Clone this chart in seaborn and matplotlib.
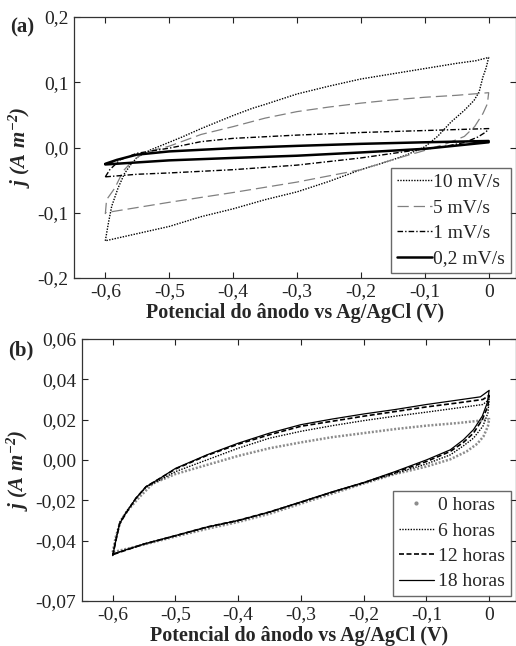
import numpy as np
import pandas as pd
import matplotlib
matplotlib.use("Agg")
import matplotlib.pyplot as plt
from matplotlib.lines import Line2D
import seaborn as sns

# ---------------- Panel (a): scan rates ----------------
a_labels = ["10 mV/s", "5 mV/s", "1 mV/s", "0,2 mV/s"]

a10_E = [-0.600, -0.595, -0.590, -0.580, -0.570, -0.560, -0.550, -0.530, -0.510, -0.500, -0.480, -0.450,
         -0.420, -0.400, -0.370, -0.350, -0.300, -0.250, -0.200, -0.150, -0.100, -0.050, -0.020, 0.000,
         -0.004, -0.009, -0.015, -0.023, -0.038, -0.059, -0.080, -0.100, -0.130, -0.160, -0.200, -0.250,
         -0.300, -0.350, -0.400, -0.450, -0.500, -0.550, -0.600]
a10_j = [-0.143, -0.115, -0.090, -0.062, -0.040, -0.026, -0.015, -0.004, 0.004, 0.008, 0.016, 0.029,
         0.041, 0.049, 0.060, 0.066, 0.082, 0.094, 0.105, 0.113, 0.121, 0.129, 0.133, 0.138,
         0.122, 0.108, 0.085, 0.072, 0.057, 0.039, 0.017, 0.001, -0.012, -0.022, -0.034, -0.052,
         -0.068, -0.080, -0.094, -0.106, -0.121, -0.132, -0.143]

a5_E = [-0.600, -0.598, -0.585, -0.572, -0.556, -0.540, -0.520, -0.500, -0.450, -0.400, -0.350, -0.300,
        -0.250, -0.200, -0.150, -0.100, -0.050, 0.000,
        -0.002, -0.009, -0.022, -0.038, -0.064, -0.100, -0.148, -0.200, -0.300, -0.400, -0.500, -0.550, -0.600]
a5_j = [-0.102, -0.080, -0.062, -0.036, -0.019, -0.009, -0.003, 0.002, 0.020, 0.032, 0.045, 0.055,
        0.062, 0.068, 0.073, 0.077, 0.080, 0.084,
        0.067, 0.052, 0.032, 0.017, 0.0066, -0.0045, -0.018, -0.034, -0.053, -0.069, -0.084, -0.092, -0.100]

a1_E = [-0.600, -0.593, -0.577, -0.551, -0.500, -0.450, -0.400, -0.300, -0.200, -0.100, 0.000,
        -0.004, -0.017, -0.038, -0.069, -0.100, -0.147, -0.200, -0.300, -0.400, -0.500, -0.550, -0.600]
a1_j = [-0.045, -0.034, -0.019, -0.009, -0.001, 0.009, 0.014, 0.019, 0.023, 0.026, 0.029,
        0.024, 0.016, 0.0076, 0.0015, -0.002, -0.0086, -0.016, -0.027, -0.034, -0.039, -0.041, -0.045]

a02_E = [-0.600, -0.582, -0.551, -0.500, -0.400, -0.300, -0.200, -0.100, 0.000,
         0.000, -0.100, -0.200, -0.300, -0.400, -0.500, -0.600]
a02_j = [-0.025, -0.019, -0.011, -0.006, -0.001, 0.0025, 0.0056, 0.008, 0.010,
         0.008, -0.002, -0.0076, -0.0126, -0.016, -0.0197, -0.026]

# ---------------- Panel (b): time ----------------
b_labels = ["0 horas", "6 horas", "12 horas", "18 horas"]

b0_E = [-0.600, -0.595, -0.587, -0.576, -0.557, -0.536, -0.500, -0.450, -0.400, -0.350, -0.300, -0.250,
        -0.200, -0.150, -0.100, -0.050, -0.014, 0.000,
        -0.002, -0.009, -0.019, -0.036, -0.062, -0.100, -0.150, -0.200, -0.250, -0.300, -0.350, -0.400,
        -0.450, -0.500, -0.550, -0.600]
b0_j = [-0.0458, -0.038, -0.030, -0.025, -0.0183, -0.0117, -0.007, -0.0025, 0.002, 0.0058, 0.0087, 0.0113,
        0.0133, 0.0153, 0.017, 0.0183, 0.0195, 0.0203,
        0.0167, 0.0117, 0.008, 0.0042, 0.0003, -0.0033, -0.007, -0.0117, -0.0167, -0.0217, -0.0267, -0.0308,
        -0.0342, -0.038, -0.042, -0.0458]

b6_E = [-0.600, -0.595, -0.589, -0.579, -0.563, -0.547, -0.525, -0.500, -0.450, -0.400, -0.350, -0.300,
        -0.250, -0.200, -0.150, -0.100, -0.050, -0.010, 0.000,
        -0.002, -0.010, -0.025, -0.041, -0.062, -0.100, -0.150, -0.200, -0.250, -0.300, -0.350, -0.400,
        -0.450, -0.500, -0.550, -0.600]
b6_j = [-0.0470, -0.039, -0.031, -0.026, -0.0190, -0.0135, -0.0100, -0.0058, 0.000, 0.0058, 0.0108, 0.0142,
        0.0170, 0.0195, 0.0217, 0.0237, 0.0258, 0.0275, 0.0300,
        0.0233, 0.0167, 0.0108, 0.0070, 0.0025, -0.0020, -0.0067, -0.0115, -0.0160, -0.0210, -0.0260, -0.0302,
        -0.0335, -0.0377, -0.0418, -0.0468]

b12_E = [-0.600, -0.595, -0.589, -0.579, -0.563, -0.547, -0.525, -0.500, -0.450, -0.400, -0.350, -0.300,
         -0.250, -0.200, -0.150, -0.100, -0.050, -0.010, 0.000,
         -0.002, -0.011, -0.025, -0.041, -0.062, -0.100, -0.150, -0.200, -0.250, -0.300, -0.350, -0.400,
         -0.450, -0.500, -0.550, -0.600]
b12_j = [-0.0475, -0.040, -0.0317, -0.0265, -0.0190, -0.0133, -0.0092, -0.0045, 0.0022, 0.0078, 0.0125, 0.0167,
         0.0192, 0.0217, 0.0240, 0.0263, 0.0283, 0.0300, 0.0320,
         0.0267, 0.0200, 0.0133, 0.0087, 0.0042, -0.0008, -0.0062, -0.0113, -0.0160, -0.0210, -0.0258, -0.0300,
         -0.0333, -0.0376, -0.0417, -0.0470]

b18_E = [-0.600, -0.595, -0.589, -0.579, -0.563, -0.547, -0.525, -0.500, -0.450, -0.400, -0.350, -0.300,
         -0.250, -0.200, -0.150, -0.100, -0.050, -0.014, 0.000,
         -0.003, -0.011, -0.025, -0.041, -0.062, -0.100, -0.150, -0.200, -0.250, -0.300, -0.350, -0.400,
         -0.450, -0.500, -0.550, -0.600]
b18_j = [-0.0475, -0.040, -0.0317, -0.0263, -0.0190, -0.0133, -0.0092, -0.0042, 0.0025, 0.0083, 0.0133, 0.0175,
         0.0203, 0.0228, 0.0250, 0.0275, 0.0297, 0.0313, 0.0345,
         0.0283, 0.0217, 0.0150, 0.0100, 0.0050, 0.0000, -0.0058, -0.0112, -0.0158, -0.0208, -0.0258, -0.0300,
         -0.0333, -0.0375, -0.0417, -0.0467]

a_xticks = [-0.6, -0.5, -0.4, -0.3, -0.2, -0.1, 0.0]
x_ticklabels = ["-0,6", "-0,5", "-0,4", "-0,3", "-0,2", "-0,1", "0"]
a_yticks = [-0.2, -0.1, 0.0, 0.1, 0.2]
a_yticklabels = ["-0,2", "-0,1", "0,0", "0,1", "0,2"]
b_yticks = [-0.07, -0.04, -0.02, 0.0, 0.02, 0.04, 0.06]
b_yticklabels = ["-0,07", "-0,04", "-0,02", "0,00", "0,02", "0,04", "0,06"]

# ---------------- Style ----------------
sns.set_style("ticks")
plt.rcParams["font.family"] = ["Liberation Serif", "DejaVu Serif"]
plt.rcParams["mathtext.fontset"] = "custom"
plt.rcParams["mathtext.rm"] = "Liberation Serif:bold:italic"
plt.rcParams["mathtext.it"] = "Liberation Serif:bold:italic"
plt.rcParams["mathtext.bf"] = "Liberation Serif:bold:italic"
plt.rcParams["axes.unicode_minus"] = False

fig = plt.figure(figsize=(5.16, 6.46), dpi=100)
axA = fig.add_axes([74 / 516, 1 - 278 / 646, 441.5 / 516, 261 / 646])
axB = fig.add_axes([82 / 516, 1 - 601 / 646, 433.5 / 516, 262 / 646])

def loop_df(E, j):
    return pd.DataFrame({"E": E, "j": j, "k": np.arange(len(E))})

a_series = [
    (a10_E, a10_j, dict(color="black", lw=1.0, linestyle=(0, (1, 1)))),
    (a5_E, a5_j, dict(color="#808080", lw=0.9, linestyle=(0, (9, 4)))),
    (a1_E, a1_j, dict(color="black", lw=1.0, linestyle=(0, (4, 1.5, 1, 1.5)))),
    (a02_E, a02_j, dict(color="black", lw=1.8, linestyle="-")),
]
for E, j, st in a_series:
    sns.lineplot(data=loop_df(E, j), x="E", y="j", sort=False, estimator=None, ax=axA, **st)

b_series = [
    (b0_E, b0_j, dict(color="#8c8c8c", lw=1.8, linestyle=(0, (0.8, 0.7)))),
    (b6_E, b6_j, dict(color="black", lw=1.0, linestyle=(0, (1, 1)))),
    (b12_E, b12_j, dict(color="black", lw=1.2, linestyle=(0, (3, 1.5)))),
    (b18_E, b18_j, dict(color="black", lw=0.9, linestyle="-")),
]
for E, j, st in b_series:
    sns.lineplot(data=loop_df(E, j), x="E", y="j", sort=False, estimator=None, ax=axB, **st)

fs = 14
for ax, yt, ytl, ylim in [(axA, a_yticks, a_yticklabels, (-0.2, 0.2)),
                          (axB, b_yticks, b_yticklabels, (-0.07, 0.06))]:
    ax.set_xlim(-0.649, 0.042)
    ax.set_ylim(*ylim)
    ax.set_xticks(a_xticks)
    ax.set_xticklabels(x_ticklabels, fontsize=fs)
    ax.set_yticks(yt)
    ax.set_yticklabels(ytl, fontsize=fs)
    ax.tick_params(direction="in", length=4, width=0.8, top=True, right=True, pad=4, colors="#222222")
    for s in ax.spines.values():
        s.set_visible(True)
        s.set_color("#333333")
        s.set_linewidth(0.9)
    ax.set_xlabel("Potencial do ânodo vs Ag/AgCl (V)", fontsize=14.5, fontweight="bold", labelpad=2)
    ax.set_ylabel(r"$j\ (A\ m^{-2})$", fontsize=15, labelpad=3)

# legends
hA = [Line2D([], [], **st) for _, _, st in a_series]
legA = axA.legend(hA, a_labels, loc="lower right", fontsize=fs, frameon=True, fancybox=False,
                  handlelength=1.8, handletextpad=0.05, borderpad=0.3, labelspacing=0.4,
                  borderaxespad=0.25)
legA.get_frame().set_edgecolor("#444444")
legA.get_frame().set_linewidth(1.0)

hB = [Line2D([], [], color="#8c8c8c", marker=".", markersize=4, linestyle="none")]
hB += [Line2D([], [], **st) for _, _, st in b_series[1:]]
legB = axB.legend(hB, b_labels, loc="lower right", fontsize=fs, frameon=True, fancybox=False,
                  handlelength=1.8, handletextpad=0.2, borderpad=0.3, labelspacing=0.4,
                  borderaxespad=0.25)
legB.get_frame().set_edgecolor("#444444")
legB.get_frame().set_linewidth(1.0)

fig.text(10 / 516, 1 - 27 / 646, "(a)", fontsize=15, fontweight="bold", va="center", ha="left")
fig.text(8 / 516, 1 - 350 / 646, "(b)", fontsize=15, fontweight="bold", va="center", ha="left")

fig.savefig("out.png", dpi=100)
